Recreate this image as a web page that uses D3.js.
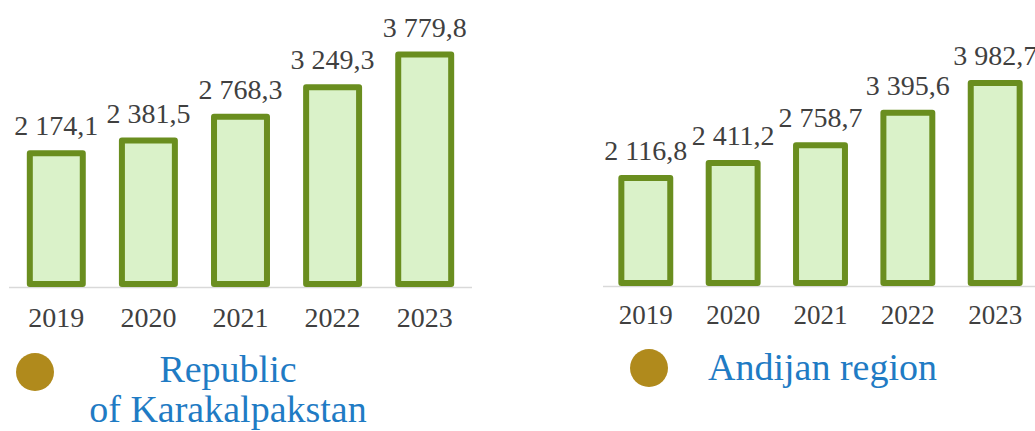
<!DOCTYPE html>
<html>
<head>
<meta charset="utf-8">
<script src="https://cdn.jsdelivr.net/npm/d3@7"></script>
</head>
<body style="margin:0">
<script>
var years = ['2019', '2020', '2021', '2022', '2023'];
var karakalpakValues = [2174.1, 2381.5, 2768.3, 3249.3, 3779.8];
var andijanValues = [2116.8, 2411.2, 2758.7, 3395.6, 3982.7];
var karakalpakTitle = ['Republic', 'of Karakalpakstan'];
var andijanTitle = ['Andijan region'];

var width = 1035, height = 431;
var serif = "'Liberation Serif', monospace";
var svg = d3.select('body').append('svg')
  .attr('width', width)
  .attr('height', height)
  .attr('font-family', serif)
  .style('display', 'block');

function fmt(v) {
  // 2174.1 -> "2 174,1"
  var s = v.toFixed(1).split('.');
  var intPart = s[0].replace(/\B(?=(\d{3})+(?!\d))/g, ' ');
  return intPart + ',' + s[1];
}

function drawPanel(opts) {
  var g = svg.append('g');

  var x = d3.scaleBand()
    .domain(years)
    .range([opts.x0, opts.x1])
    .paddingInner(opts.padInner)
    .paddingOuter(opts.padOuter);

  var y = d3.scaleLinear()
    .domain([0, 4000])
    .range([opts.base, opts.top]);

  // baseline
  g.append('line')
    .attr('x1', opts.x0).attr('x2', opts.x1)
    .attr('y1', opts.base + 0.5).attr('y2', opts.base + 0.5)
    .style('stroke', '#d9d9d9')
    .style('stroke-width', 1.5);

  g.selectAll('rect.bar')
    .data(opts.values)
    .enter().append('rect')
    .attr('class', 'bar')
    .attr('x', function(d, i) { return x(years[i]); })
    .attr('y', function(d) { return y(d); })
    .attr('width', x.bandwidth())
    .attr('height', function(d) { return opts.base - 3 - y(d); })
    .style('fill', '#daf2c9')
    .style('stroke', '#6a8e1f')
    .style('stroke-width', 6)
    .style('stroke-linejoin', 'round');

  g.selectAll('text.val')
    .data(opts.values)
    .enter().append('text')
    .attr('class', 'val')
    .attr('x', function(d, i) { return x(years[i]) + x.bandwidth() / 2; })
    .attr('y', function(d) { return y(d) - 18; })
    .attr('text-anchor', 'middle')
    .attr('font-family', serif)
    .style('font-size', '28px')
    .style('fill', '#404040')
    .text(fmt);

  // year labels (x axis)
  var axis = d3.axisBottom(x).tickSize(0).tickPadding(0);
  var ax = g.append('g')
    .attr('transform', 'translate(0,' + opts.yearY + ')')
    .call(axis)
    .attr('font-family', serif);
  ax.select('.domain').remove();
  ax.selectAll('text')
    .attr('dy', 0)
    .attr('font-family', serif)
    .style('font-size', opts.yearSize + 'px')
    .style('fill', '#404040');

  // legend marker + title
  g.append('circle')
    .attr('cx', opts.dotX).attr('cy', opts.dotY).attr('r', 19)
    .style('fill', '#b08a1c');

  g.selectAll('text.title')
    .data(opts.title)
    .enter().append('text')
    .attr('class', 'title')
    .attr('x', opts.titleX)
    .attr('y', function(d, i) { return opts.titleY + i * 40; })
    .attr('text-anchor', opts.titleAnchor)
    .attr('font-family', serif)
    .style('font-size', opts.titleSize + 'px')
    .style('fill', '#1f7bc4')
    .text(function(d) { return d; });
}

drawPanel({
  values: karakalpakValues, title: karakalpakTitle,
  x0: 9, x1: 472, padInner: 0.425, padOuter: 0.226,
  base: 287, top: 41,
  yearY: 327, yearSize: 28,
  dotX: 35, dotY: 372,
  titleX: 228, titleY: 382, titleAnchor: 'middle', titleSize: 38
});

drawPanel({
  values: andijanValues, title: andijanTitle,
  x0: 603, x1: 1038, padInner: 0.44, padOuter: 0.21,
  base: 286, top: 82,
  yearY: 324, yearSize: 27,
  dotX: 649, dotY: 368,
  titleX: 708, titleY: 380, titleAnchor: 'start', titleSize: 38
});
</script>
</body>
</html>
